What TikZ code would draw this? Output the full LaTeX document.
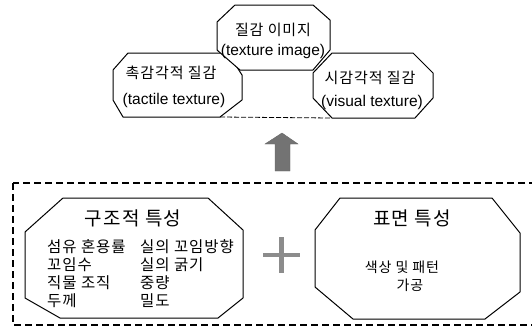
\documentclass[tikz,border=0pt]{standalone}
\usepackage{fontspec}
\setmainfont{Liberation Sans}
\newfontfamily\kr{Noto Sans CJK KR}[LetterSpace=6.0]
\begin{document}
\begin{tikzpicture}[x=1pt,y=-1pt,
  oct/.style={draw=black, line width=1pt, fill=white, line join=round},
  txt/.style={inner sep=0pt, anchor=center},
  item/.style={inner sep=0pt, anchor=west, font=\kr\fontsize{15.5}{16}\selectfont},
  enfont/.style={font=\fontsize{15.5}{16}\selectfont},
  krtop/.style={font=\kr\fontsize{15}{15}\selectfont},
  krbig/.style={font=\kr\fontsize{19}{19}\selectfont},
  grayfill/.style={fill=black!55, draw=black!60, line width=0.4pt}
]
\useasboundingbox (0,0) rectangle (532,333);
\begin{scope}
\clip (0,0) rectangle (532,333);
% dashed box
\draw[line width=1.1pt, dash pattern=on 7pt off 4pt] (13,183) rectangle (545,325);
\end{scope}

% top group
\draw[oct] (128,53) -- (228,53) -- (242,75) -- (242,100) -- (220,117) -- (123,117) -- (113,100) -- (113,70) -- cycle;
\draw[oct] (332,53) -- (413,53) -- (433,73) -- (433,98) -- (415,118) -- (332,118) -- (313,98) -- (313,73) -- cycle;
\draw[oct] (235,5) -- (313,5) -- (330,20) -- (330,50) -- (313,70) -- (240,70) -- (217,50) -- (217,22) -- cycle;
\coordinate (ltbr) at (220,117);
\coordinate (rtbl) at (332,118);
\draw[line width=0.8pt, dash pattern=on 5pt off 2pt] (ltbr) -- (rtbl);

\node[txt, krtop] (img) at (273,30) {질감 이미지};
\node[txt, enfont] (imgen) at (273,51) {(texture image)};
\node[txt, krtop] (tac) at (171,73) {촉감각적 질감};
\node[txt, enfont] (tacen) at (174,100) {(tactile texture)};
\node[txt, krtop] (vis) at (370,78) {시감각적 질감};
\node[txt, enfont] (visen) at (372,102) {(visual texture)};

% up arrow
\draw[grayfill] (282,133) -- (298,144) -- (290,144) -- (290,171) -- (275,171) -- (275,144) -- (265,144) -- cycle;

% bottom left octagon
\draw[oct] (63,198) -- (208,198) -- (243,230) -- (243,298) -- (218,318) -- (60,318) -- (25,298) -- (25,232) -- cycle;
\node[txt, krbig] (struct) at (133,218) {구조적 특성};
\node[item] (a1) at (47,247) {섬유 혼용률};
\node[item] (a2) at (47,265) {꼬임수};
\node[item] (a3) at (47,283) {직물 조직};
\node[item] (a4) at (47,301) {두께};
\node[item] (b1) at (140,247) {실의 꼬임방향};
\node[item] (b2) at (140,265) {실의 굵기};
\node[item] (b3) at (140,283) {중량};
\node[item] (b4) at (140,301) {밀도};

% plus
\fill[black!45] (279,237) rectangle (283.5,273);
\fill[black!45] (263,253) rectangle (300,257);

% bottom right octagon
\draw[oct] (340,198) -- (492,198) -- (520,233) -- (520,292) -- (485,319) -- (353,319) -- (315,287) -- (315,230) -- cycle;
\node[txt, krbig] (surf) at (412,218) {표면 특성};
\node[txt, font=\kr\fontsize{14}{14}\selectfont] (c1) at (402,267) {색상 및 패턴};
\node[txt, font=\kr\fontsize{14}{14}\selectfont] (c2) at (410,285) {가공};
\end{tikzpicture}
\end{document}
